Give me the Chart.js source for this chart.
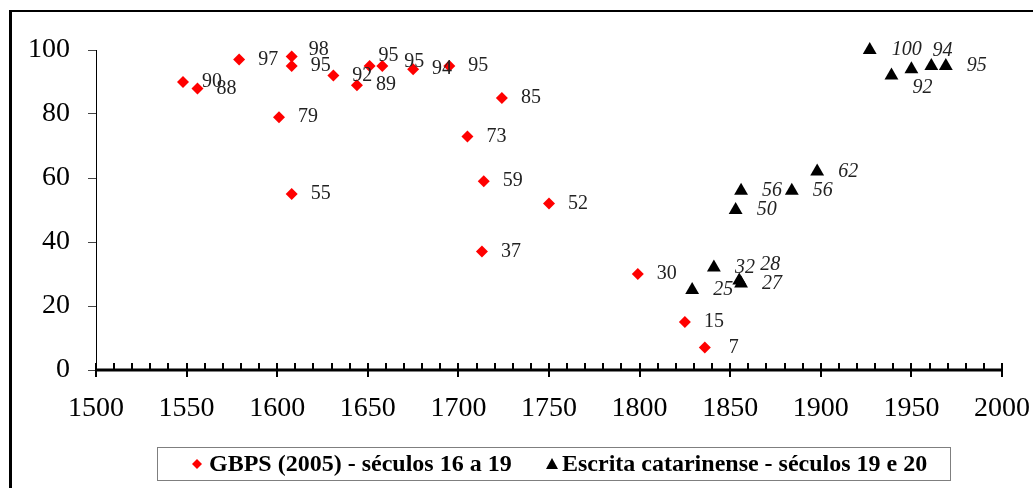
<!DOCTYPE html>
<html>
<head>
<meta charset="utf-8">
<script src="https://cdn.jsdelivr.net/npm/chart.js@4.4.1/dist/chart.umd.min.js"></script>
<style>
  html, body { margin: 0; padding: 0; background: #fff; }
  #wrap { width: 1033px; height: 488px; position: relative; }
</style>
</head>
<body>
<div id="wrap"><canvas id="chart" width="1033" height="488"></canvas></div>
<script>
// GBPS (2005), 16th to 19th century
var gbpsYears  = [1548, 1556, 1579, 1601, 1608, 1608, 1608, 1631, 1644, 1651, 1658, 1675, 1695, 1705, 1713, 1714, 1724, 1750, 1799, 1825, 1836];
var gbpsValues = [90, 88, 97, 79, 98, 95, 55, 92, 89, 95, 95, 94, 95, 73, 37, 59, 85, 52, 30, 15, 7];

// Escrita catarinense, 19th and 20th century
var scYears  = [1829, 1841, 1855, 1856, 1853, 1856, 1884, 1898, 1927, 1939, 1950, 1961, 1969];
var scValues = [25, 32, 28, 27, 50, 56, 56, 62, 100, 92, 94, 95, 95];

var xTicks = [1500, 1550, 1600, 1650, 1700, 1750, 1800, 1850, 1900, 1950, 2000];
var yTicks = [0, 20, 40, 60, 80, 100];

var serif = '"Liberation Serif", "Times New Roman", serif';

function toPoints(xs, ys) {
  return xs.map(function (x, i) { return { x: x, y: ys[i] }; });
}

// outer frame (only left and top edges fall inside the picture)
var frame = {
  id: 'frame',
  beforeDraw: function (chart) {
    var ctx = chart.ctx;
    ctx.save();
    ctx.fillStyle = '#000';
    ctx.fillRect(9, 10, 3, chart.height - 10);
    ctx.fillRect(9, 10, chart.width - 9, 2);
    ctx.restore();
  }
};

// thick x axis with minor ticks every 10 years
var xAxisLine = {
  id: 'xAxisLine',
  afterDatasetsDraw: function (chart) {
    var ctx = chart.ctx, sc = chart.scales.x, y = chart.chartArea.bottom;
    ctx.save();
    ctx.strokeStyle = '#000';
    ctx.lineWidth = 3;
    ctx.beginPath();
    ctx.moveTo(sc.left, y);
    ctx.lineTo(sc.right, y);
    ctx.stroke();
    ctx.lineWidth = 2;
    for (var v = sc.min; v <= sc.max; v += 10) {
      var px = Math.round(sc.getPixelForValue(v));
      ctx.beginPath();
      ctx.moveTo(px, y - 7);
      ctx.lineTo(px, (v % 50 === 0) ? y + 7 : y);
      ctx.stroke();
    }
    ctx.restore();
  }
};

// value labels beside each point
var pointLabels = {
  id: 'pointLabels',
  afterDatasetsDraw: function (chart, args, opts) {
    var ctx = chart.ctx;
    chart.data.datasets.forEach(function (ds, di) {
      var cfg = opts.sets[di];
      var meta = chart.getDatasetMeta(di);
      ctx.save();
      ctx.font = cfg.font;
      ctx.fillStyle = cfg.color;
      ctx.textAlign = 'center';
      ctx.textBaseline = 'middle';
      meta.data.forEach(function (pt, i) {
        if (cfg.hide.indexOf(i) >= 0) return;
        var n = cfg.nudge[i] || [0, 0];
        ctx.fillText(String(ds.data[i].y), pt.x + cfg.dx + n[0], pt.y + n[1]);
      });
      ctx.restore();
    });
  }
};

// boxed legend under the axis
var boxLegend = {
  id: 'boxLegend',
  afterDraw: function (chart) {
    var ctx = chart.ctx;
    var ds = chart.data.datasets;
    ctx.save();
    ctx.strokeStyle = '#7f7f7f';
    ctx.lineWidth = 1;
    ctx.strokeRect(157.5, 447.5, 793, 33);
    ctx.font = 'bold 24px ' + serif;
    ctx.textBaseline = 'middle';
    ctx.textAlign = 'left';
    var cy = 464;
    // diamond
    ctx.fillStyle = ds[0].backgroundColor;
    ctx.beginPath();
    ctx.moveTo(197, cy - 5); ctx.lineTo(202, cy); ctx.lineTo(197, cy + 5); ctx.lineTo(192, cy);
    ctx.closePath(); ctx.fill();
    ctx.fillStyle = '#000';
    ctx.fillText(ds[0].label, 209, cy + 1);
    // triangle
    ctx.fillStyle = ds[1].backgroundColor;
    ctx.beginPath();
    ctx.moveTo(552, cy - 6); ctx.lineTo(558, cy + 5); ctx.lineTo(546, cy + 5);
    ctx.closePath(); ctx.fill();
    ctx.fillStyle = '#000';
    ctx.fillText(ds[1].label, 562, cy + 1);
    ctx.restore();
  }
};

new Chart(document.getElementById('chart'), {
  type: 'scatter',
  data: {
    datasets: [
      {
        label: 'GBPS (2005) - séculos 16 a 19',
        data: toPoints(gbpsYears, gbpsValues),
        pointStyle: 'rectRot',
        pointRadius: 6,
        pointHoverRadius: 6,
        backgroundColor: '#ff0000',
        borderColor: '#ff0000',
        borderWidth: 0,
        clip: false
      },
      {
        label: 'Escrita catarinense - séculos 19 e 20',
        data: toPoints(scYears, scValues),
        pointStyle: 'triangle',
        pointRadius: 8,
        pointHoverRadius: 8,
        backgroundColor: '#000',
        borderColor: '#000',
        borderWidth: 0,
        clip: false
      }
    ]
  },
  options: {
    responsive: false,
    animation: false,
    devicePixelRatio: 1,
    events: [],
    layout: { padding: { left: 0, right: 31, top: 50, bottom: 58 } },
    plugins: {
      legend: { display: false },
      tooltip: { enabled: false },
      pointLabels: {
        sets: [
          { font: '20px ' + serif, color: '#222', dx: 29, hide: [],
            nudge: { 4: [-2, -7], 9: [-10, -10], 10: [3, -4] } },
          { font: 'italic 20px ' + serif, color: '#222', dx: 31, hide: [11],
            nudge: { 2: [0, -16], 8: [6, 0], 9: [0, 12], 10: [0, -18] } }
        ]
      }
    },
    scales: {
      x: {
        type: 'linear',
        min: 1500,
        max: 2000,
        afterBuildTicks: function (sc) { sc.ticks = xTicks.map(function (v) { return { value: v }; }); },
        afterFit: function (sc) { sc.height = 60; sc.paddingLeft = 0; sc.paddingRight = 0; },
        grid: { display: false, drawTicks: false },
        border: { display: false },
        ticks: {
          font: { family: serif, size: 28 }, color: '#000', padding: 22, maxRotation: 0, autoSkip: false,
          callback: function (v) { return String(v); }
        }
      },
      y: {
        min: 0,
        max: 100,
        afterBuildTicks: function (sc) { sc.ticks = yTicks.map(function (v) { return { value: v }; }); },
        afterFit: function (sc) { sc.width = 96; },
        grid: { drawOnChartArea: false, tickLength: 8, color: '#444', lineWidth: 1 },
        border: { color: '#000', width: 1 },
        ticks: { font: { family: serif, size: 28 }, color: '#000', padding: 18 }
      }
    }
  },
  plugins: [frame, xAxisLine, pointLabels, boxLegend]
});
</script>
</body>
</html>
